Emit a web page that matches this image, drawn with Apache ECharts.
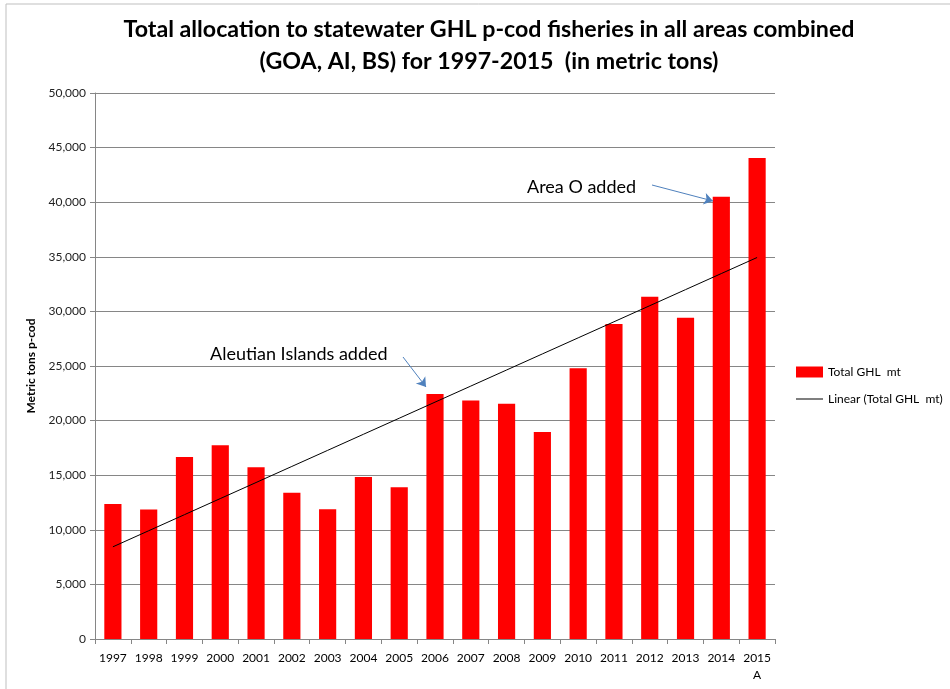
<!DOCTYPE html>
<html>
<head>
<meta charset="utf-8">
<script src="https://cdn.jsdelivr.net/npm/echarts@6/dist/echarts.min.js"></script>
<style>
  html, body { margin: 0; padding: 0; background: #fff; }
  #chart { width: 950px; height: 689px; }
</style>
</head>
<body>
<div id="chart"></div>
<script>
// 年份（横轴）
const years = ['1997', '1998', '1999', '2000', '2001', '2002', '2003', '2004', '2005', '2006',
  '2007', '2008', '2009', '2010', '2011', '2012', '2013', '2014', '2015'];

// Total GHL mt
const totalGHL = [12360, 11870, 16670, 17740, 15720, 13400, 11880, 14830, 13890, 22440,
  21830, 21550, 18960, 24790, 28850, 31350, 29420, 40500, 44050];

// y轴刻度
const yTicks = [0, 5000, 10000, 15000, 20000, 25000, 30000, 35000, 40000, 45000, 50000];

// 线性趋势线（最小二乘）
function linearTrend(arr) {
  let n = arr.length;
  let mx = (n - 1) / 2;
  let my = arr.reduce((a, b) => a + b, 0) / n;
  let sxy = 0, sxx = 0;
  arr.forEach((v, i) => {
    sxy += (i - mx) * (v - my);
    sxx += (i - mx) * (i - mx);
  });
  let k = sxy / sxx;
  return arr.map((v, i) => Math.round(my + k * (i - mx)));
}
const trend = linearTrend(totalGHL);

const chart = echarts.init(document.getElementById('chart'));

const font = 'Lato, "Open Sans", sans-serif';
const arrowColor = '#4f81bd';

let option = {
  backgroundColor: '#ffffff',
  animation: false,
  textStyle: { fontFamily: font },
  title: {
    text: 'Total allocation to statewater GHL p-cod fisheries in all areas combined\n(GOA, AI, BS) for 1997-2015  (in metric tons)',
    left: 484,
    textAlign: 'center',
    top: 9,
    textStyle: {
      fontFamily: font,
      fontSize: 23.2,
      fontWeight: 'bold',
      color: '#000',
      lineHeight: 32
    }
  },
  legend: {
    orient: 'vertical',
    left: 790,
    top: 361,
    itemGap: 15,
    itemWidth: 27,
    itemHeight: 11,
    textStyle: { fontFamily: font, fontSize: 12, color: '#000' },
    data: [
      { name: 'Total GHL  mt', icon: 'rect' },
      {
        name: 'Linear (Total GHL  mt)',
        itemStyle: { opacity: 0 },
        lineStyle: { color: '#7f7f7f', width: 2 }
      }
    ]
  },
  grid: {
    left: 95,
    right: 175,
    top: 93,
    bottom: 50
  },
  xAxis: {
    type: 'category',
    data: years,
    axisLine: { lineStyle: { color: '#868686', width: 1 } },
    axisTick: { show: true, alignWithLabel: false, length: 5, lineStyle: { color: '#868686' } },
    axisLabel: {
      interval: 0,
      fontFamily: font,
      fontSize: 12,
      color: '#000',
      margin: 11,
      lineHeight: 17,
      formatter: function (v) {
        return v === '2015' ? '2015\nA' : v;
      }
    }
  },
  yAxis: {
    type: 'value',
    min: yTicks[0],
    max: yTicks[yTicks.length - 1],
    interval: 5000,
    name: 'Metric tons p-cod',
    nameLocation: 'middle',
    nameGap: 57,
    nameTextStyle: { fontFamily: font, fontSize: 12, fontWeight: 'bold', color: '#000' },
    axisLine: { show: true, lineStyle: { color: '#868686', width: 1 } },
    axisTick: { show: true, length: 5, lineStyle: { color: '#868686' } },
    axisLabel: {
      fontFamily: font,
      fontSize: 12,
      color: '#222',
      margin: 9,
      formatter: function (v) {
        return v.toLocaleString('en-US');
      }
    },
    splitLine: { show: true, lineStyle: { color: '#868686', width: 1 } }
  },
  series: [
    {
      name: 'Total GHL  mt',
      type: 'bar',
      data: totalGHL,
      barWidth: '48%',
      itemStyle: { color: '#ff0000' }
    },
    {
      name: 'Linear (Total GHL  mt)',
      type: 'line',
      data: trend,
      symbol: 'none',
      itemStyle: { color: '#000' },
      lineStyle: { color: '#000', width: 1 },
      z: 5,
      markLine: {
        silent: true,
        symbol: ['none', 'arrow'],
        symbolSize: 9,
        label: { show: false },
        lineStyle: { color: arrowColor, width: 1, type: 'solid' },
        data: [
          [{ x: 652, y: 185 }, { x: 713, y: 201 }],
          [{ x: 403, y: 357 }, { x: 426, y: 387 }]
        ]
      }
    }
  ],
  graphic: [
    {
      type: 'rect',
      shape: { x: 6, y: 4, width: 1200, height: 1200 },
      style: { fill: 'none', stroke: '#bfbfbf', lineWidth: 1 },
      silent: true
    },
    {
      type: 'text',
      x: 527,
      y: 187,
      style: { text: 'Area O added', font: '18px ' + font, fill: '#000', verticalAlign: 'middle' }
    },
    {
      type: 'text',
      x: 210,
      y: 354,
      style: { text: 'Aleutian Islands added', font: '18px ' + font, fill: '#000', verticalAlign: 'middle' }
    }
  ]
};

chart.setOption(option);
</script>
</body>
</html>
